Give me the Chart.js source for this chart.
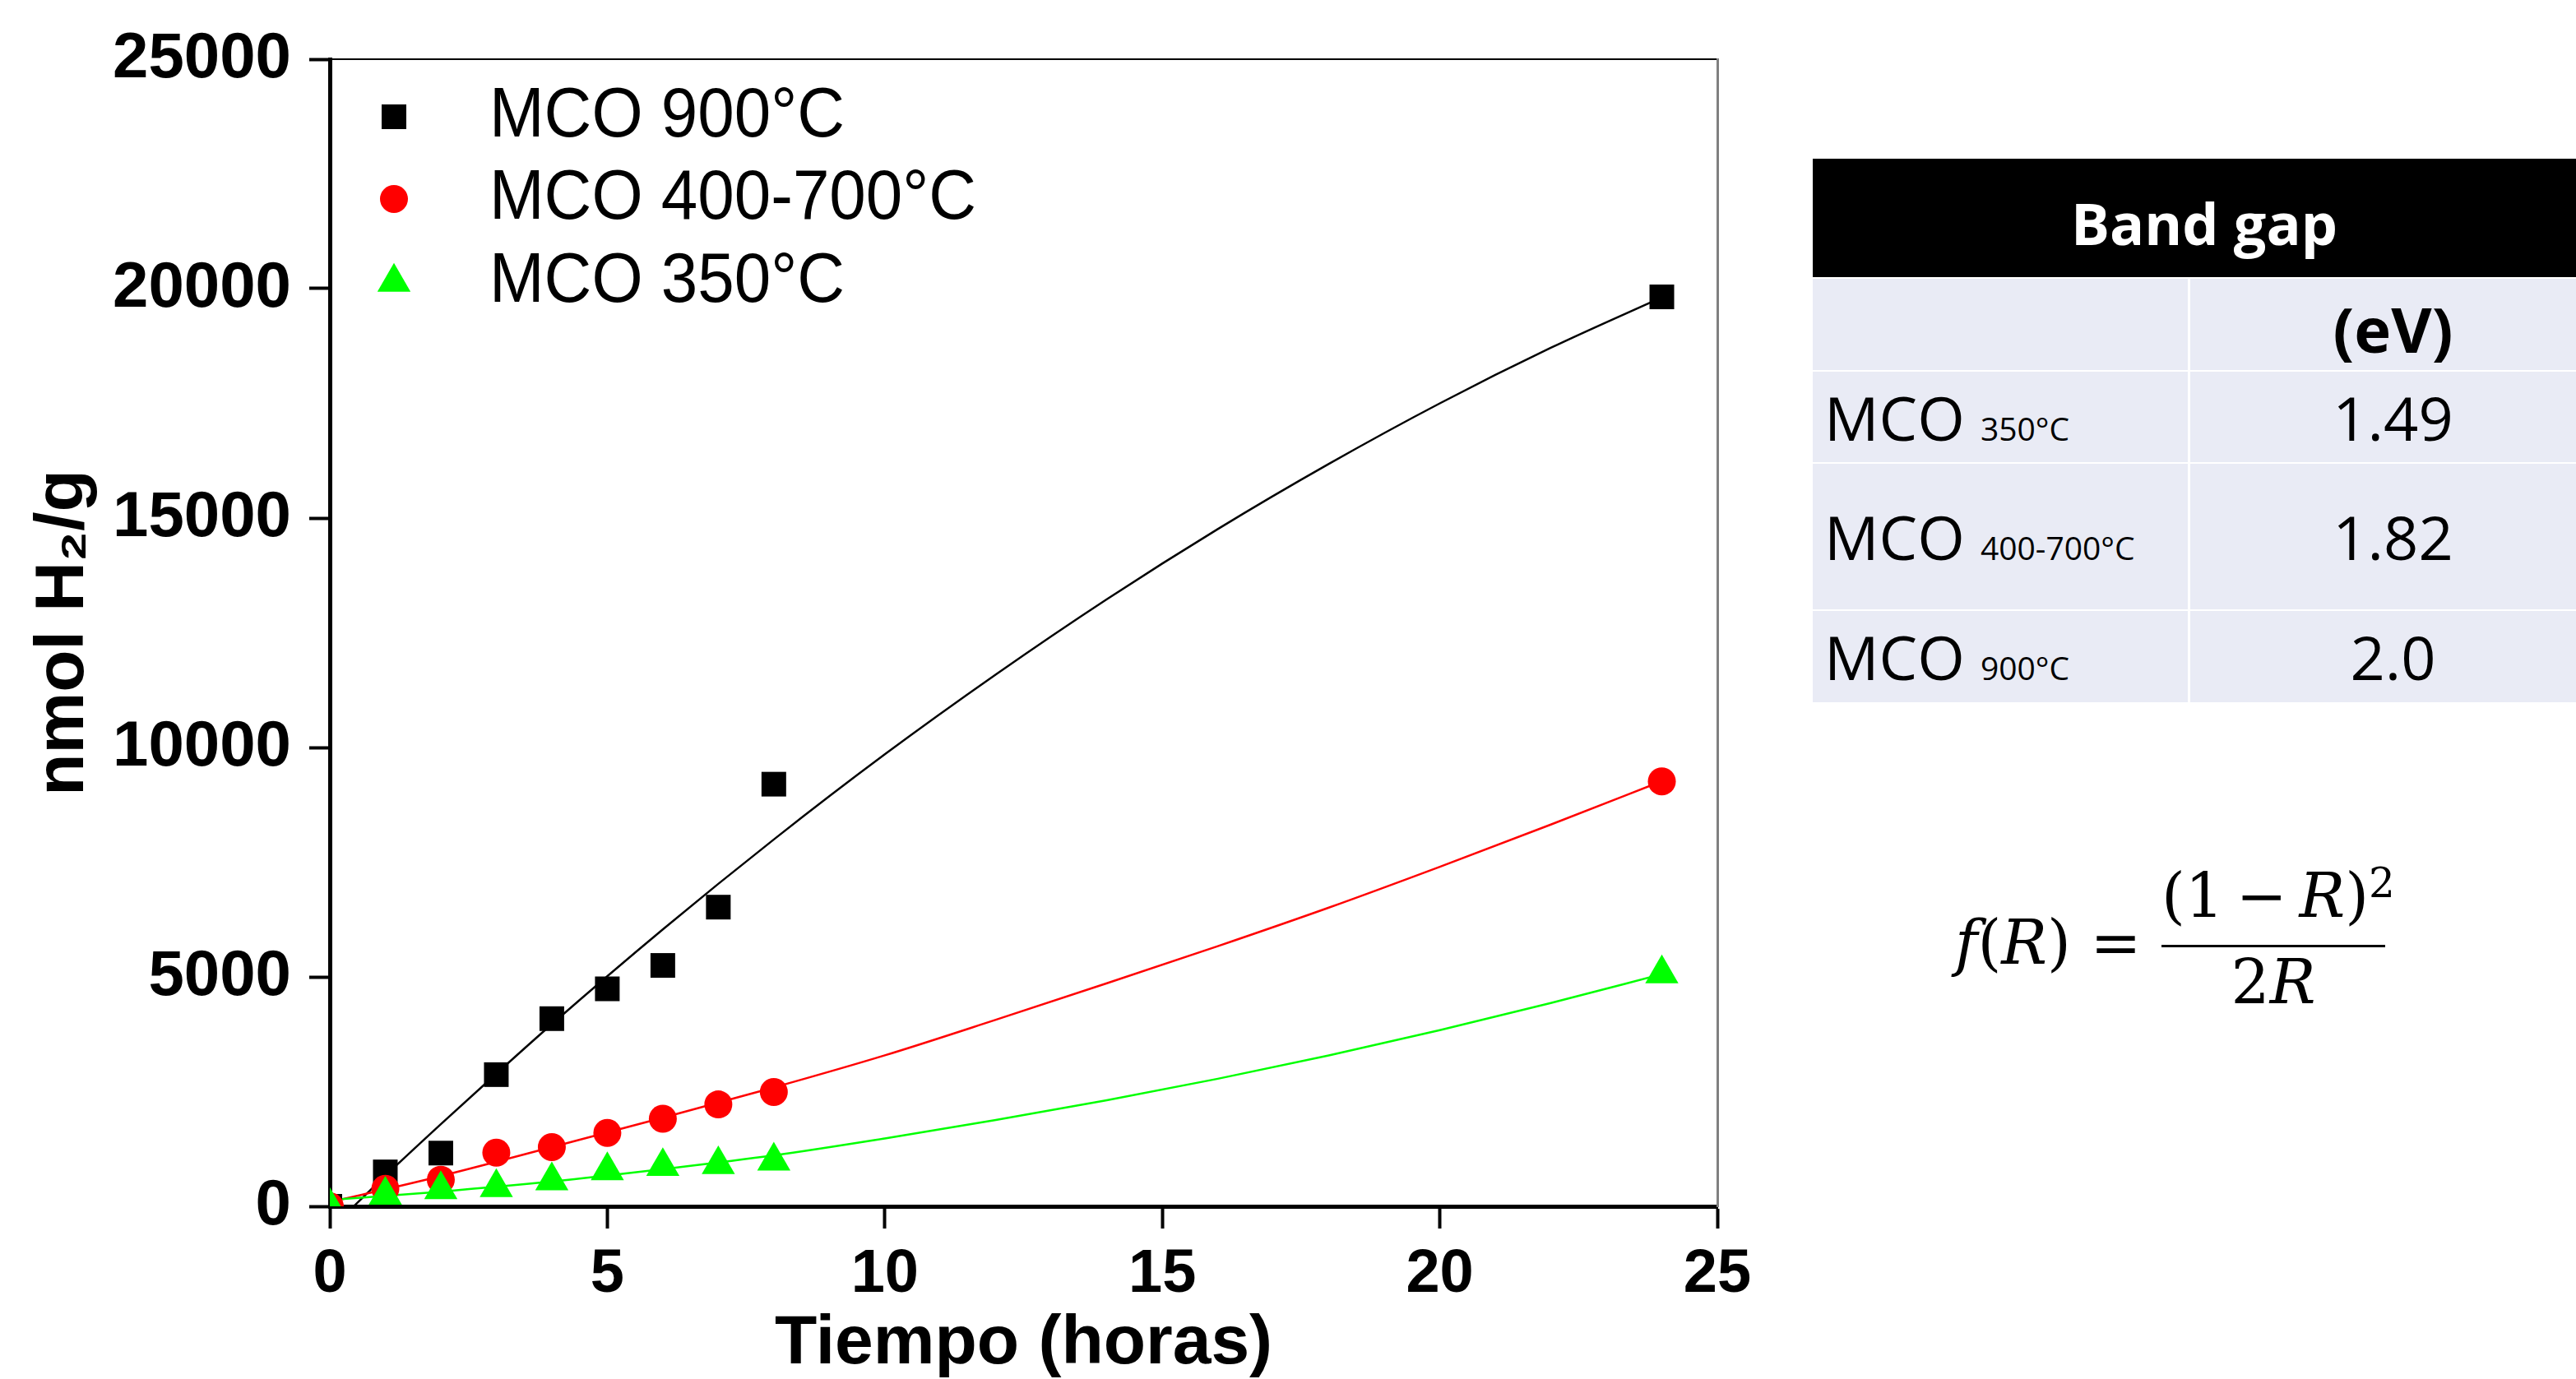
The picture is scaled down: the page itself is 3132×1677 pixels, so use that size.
<!DOCTYPE html>
<html>
<head>
<meta charset="utf-8">
<script src="https://cdn.jsdelivr.net/npm/chart.js@4.4.1/dist/chart.umd.min.js"></script>
<style>
  html, body { margin: 0; padding: 0; background: #fff; }
  body { width: 3132px; height: 1677px; overflow: hidden; position: relative; }
  #chartBox { position: absolute; left: 0; top: 0; width: 2200px; height: 1677px; }
  .cell { position: absolute; display: flex; align-items: center; box-sizing: border-box;
          font-family: "Open Sans", "Liberation Sans", sans-serif; color: #000; }
  .hdr { background: #000; color: #fff; font-weight: bold; font-size: 70px; justify-content: center; }
  .lbl { background: #e9ebf5; font-size: 74px; padding-left: 14px; }
  .val { background: #e9ebf5; font-size: 74px; justify-content: center; }
  .sub { font-size: 39px; }
  .math { position: absolute; font-family: "DejaVu Serif", "Liberation Serif", serif; font-size: 74px;
          line-height: 74px; height: 74px; white-space: nowrap; color: #000; }
  .math i { font-style: italic; }
  .sup { font-size: 50px; position: relative; top: -24px; }
  .bar { position: absolute; background: #000; }
</style>
</head>
<body>
<div id="chartBox"><canvas id="h2Chart" width="2200" height="1677"></canvas></div>
<div id="table"></div>

<div class="math" style="left:2377px; top:1109px;"><i>f</i>(<i>R</i>) =</div>
<div class="math" style="left:2628px; width:272px; top:1052px; text-align:center;">(1&#8201;&#8722;&#8201;<i>R</i>)<span class="sup">2</span></div>
<div class="bar" style="left:2628px; top:1149px; width:272px; height:3px;"></div>
<div class="math" style="left:2628px; width:272px; top:1157px; text-align:center;">2<i>R</i></div>

<script>
// Chart data
const hours = [0, 1, 2, 3, 4, 5, 6, 7, 8, 24];
const mco900 = [0, 750, 1160, 2870, 4090, 4740, 5250, 6520, 9200, 19820];
const mco400 = [0, 380, 580, 1170, 1290, 1600, 1910, 2220, 2490, 9260];
const mco350 = [0, 245, 365, 410, 560, 780, 870, 910, 990, 5070];

// Fitted curves
const fitHours900 = [0.43, 1, 2, 3, 4, 6, 8, 10, 12, 14, 16, 18, 20, 22, 24];
const fit900 = [0, 665, 1790, 2890, 3970, 6035, 7995, 9850, 11590, 13230, 14760, 16180, 17500, 18710, 19810];
const fitHours = [0, 2, 4, 6, 8, 10, 12, 14, 16, 18, 20, 22, 24];
const fit400 = [90, 660, 1290, 1930, 2590, 3290, 4065, 4860, 5670, 6510, 7400, 8320, 9265];
const fit350 = [138, 320, 540, 810, 1110, 1480, 1880, 2310, 2780, 3290, 3840, 4430, 5060];

// Axis ticks
const xTicks = [0, 5, 10, 15, 20, 25];
const yTicks = [0, 5000, 10000, 15000, 20000, 25000];

// Band gap table
const bandGapSamples = ["350°C", "400-700°C", "900°C"];
const bandGapValues = ["1.49", "1.82", "2.0"];

const BLACK = "#000000";
const RED = "#ff0000";
const GREEN = "#00ff00";
const FONT = '"Liberation Sans", Arial, sans-serif';

function toPoints(xs, ys) {
  return xs.map((x, i) => ({ x: x, y: ys[i] }));
}

// Legend entries: dataset index, top to bottom
const legendOrder = [2, 1, 0];

const markerLegend = {
  id: "markerLegend",
  afterDatasetsDraw(chart) {
    const ctx = chart.ctx;
    const area = chart.chartArea;
    const rowY = [70, 170, 271];
    ctx.save();
    legendOrder.forEach((dsIndex, row) => {
      const ds = chart.data.datasets[dsIndex];
      const y = area.top + rowY[row];
      ctx.fillStyle = ds.backgroundColor;
      Chart.helpers.drawPoint(ctx, {
        pointStyle: ds.pointStyle,
        radius: ds.pointRadius,
        rotation: 0,
        borderWidth: 0
      }, area.left + 78, y);
      ctx.fillStyle = "#000";
      ctx.font = "normal 86px " + FONT;
      ctx.textBaseline = "middle";
      ctx.textAlign = "left";
      ctx.save();
      ctx.translate(area.left + 194, y);
      ctx.scale(0.93, 1);
      ctx.fillText(ds.label, 0, 0);
      ctx.restore();
    });
    ctx.restore();
  }
};

function markerSet(label, xs, ys, color, style, radius, order) {
  return {
    label: label,
    data: toPoints(xs, ys),
    showLine: false,
    pointStyle: style,
    pointRadius: radius,
    pointHoverRadius: radius,
    pointBorderWidth: 0,
    backgroundColor: color,
    borderColor: color,
    order: order
  };
}

function fitSet(xs, ys, color, order) {
  return {
    label: "fit",
    data: toPoints(xs, ys),
    showLine: true,
    pointRadius: 0,
    borderColor: color,
    borderWidth: 2.5,
    cubicInterpolationMode: "monotone",
    order: order
  };
}

const tickFont = (size) => ({ family: FONT, size: size, weight: "bold" });

new Chart(document.getElementById("h2Chart"), {
  type: "scatter",
  data: {
    datasets: [
      markerSet("MCO 350°C", hours, mco350, GREEN, "triangle", 23.3, 1),
      markerSet("MCO 400-700°C", hours, mco400, RED, "circle", 17, 2),
      markerSet("MCO 900°C", hours, mco900, BLACK, "rect", 21.2, 3),
      fitSet(fitHours, fit350, GREEN, 4),
      fitSet(fitHours, fit400, RED, 5),
      fitSet(fitHours900, fit900, BLACK, 6)
    ]
  },
  options: {
    responsive: false,
    animation: false,
    layout: { padding: { top: 72, right: 112, left: 0, bottom: 0 } },
    plugins: { legend: { display: false }, tooltip: { enabled: false } },
    scales: {
      x: {
        type: "linear",
        position: "bottom",
        min: 0,
        max: 25,
        afterBuildTicks: (s) => { s.ticks = xTicks.map(v => ({ value: v })); },
        ticks: { font: tickFont(74), color: "#000", padding: 12 },
        grid: { display: true, drawOnChartArea: false, drawTicks: true, tickLength: 27, tickWidth: 4, tickColor: "#000" },
        border: { display: true, color: "#000", width: 5 },
        title: {
          display: true,
          text: "Tiempo (horas)",
          color: "#000",
          font: { family: FONT, size: 84, weight: "bold", lineHeight: 1 },
          padding: { top: 0, bottom: 0 }
        },
        afterFit: (s) => { s.height = 210; }
      },
      y: {
        type: "linear",
        position: "left",
        min: 0,
        max: 25000,
        afterBuildTicks: (s) => { s.ticks = yTicks.map(v => ({ value: v })); },
        ticks: { font: tickFont(78), color: "#000", padding: 22, callback: (v) => String(v) },
        grid: { display: true, drawOnChartArea: false, drawTicks: true, tickLength: 25, tickWidth: 4, tickColor: "#000" },
        border: { display: true, color: "#000", width: 5 },
        title: {
          display: true,
          text: "nmol H\u2082/g",
          color: "#000",
          font: { family: FONT, size: 84, weight: "bold", lineHeight: 1 },
          padding: { top: 36, bottom: 0 }
        },
        afterFit: (s) => { s.width = 401; }
      },
      xTop: {
        type: "linear",
        position: "top",
        min: 0,
        max: 25,
        ticks: { display: false },
        grid: { display: false },
        border: { display: true, color: "#000", width: 2 },
        afterFit: (s) => { s.height = 0; }
      },
      yRight: {
        type: "linear",
        position: "right",
        min: 0,
        max: 25000,
        ticks: { display: false },
        grid: { display: false },
        border: { display: true, color: "#808080", width: 3 },
        afterFit: (s) => { s.width = 0; }
      }
    }
  },
  plugins: [markerLegend]
});

// Band gap table
function addCell(cls, left, top, width, height, html, extra) {
  const d = document.createElement("div");
  d.className = "cell " + cls;
  d.style.left = left + "px";
  d.style.top = top + "px";
  d.style.width = width + "px";
  d.style.height = height + "px";
  if (extra) Object.assign(d.style, extra);
  d.innerHTML = "<span>" + html + "</span>";
  document.getElementById("table").appendChild(d);
}

const col1 = { left: 2204, width: 456 };
const col2 = { left: 2663, width: 493 };
const rowTops = [339, 452, 564, 743];
const rowHeights = [111, 110, 177, 111];

addCell("hdr", 2204, 193, 952, 144, "Band gap", { paddingTop: "12px" });
addCell("lbl", col1.left, rowTops[0], col1.width, rowHeights[0], "");
addCell("val", col2.left, rowTops[0], col2.width, rowHeights[0], "<b style='font-size:76px'>(eV)</b>", { paddingTop: "10px" });
bandGapSamples.forEach((s, i) => {
  addCell("lbl", col1.left, rowTops[i + 1], col1.width, rowHeights[i + 1],
    "MCO&nbsp;<span class='sub'>" + s + "</span>");
  addCell("val", col2.left, rowTops[i + 1], col2.width, rowHeights[i + 1], bandGapValues[i]);
});
</script>
</body>
</html>
